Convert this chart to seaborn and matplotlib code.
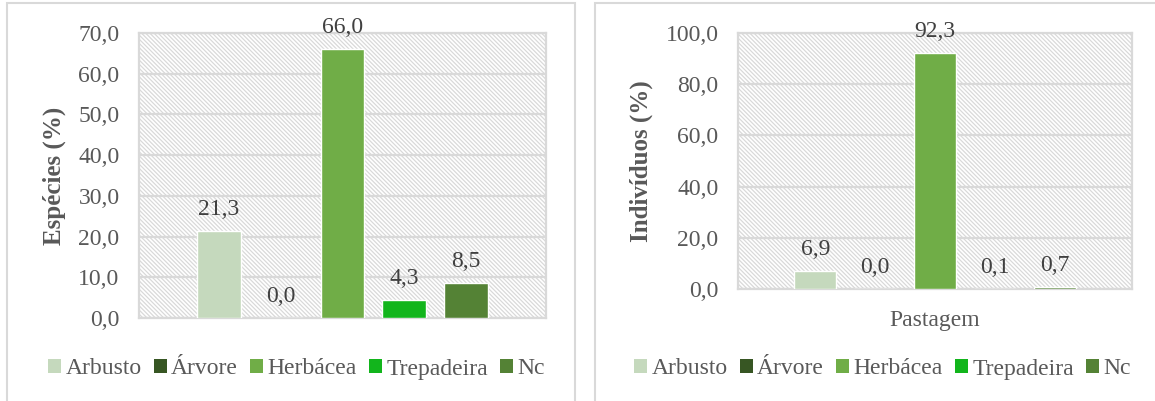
import matplotlib
matplotlib.use("Agg")
import matplotlib.pyplot as plt
import seaborn as sns
import pandas as pd
from matplotlib.patches import Rectangle, Patch
from matplotlib.ticker import FuncFormatter, MultipleLocator

# ---------------- data ----------------
categories = ["Arbusto", "Árvore", "Herbácea", "Trepadeira", "Nc"]
especies = [21.3, 0.0, 66.0, 4.3, 8.5]
individuos = [6.9, 0.0, 92.3, 0.1, 0.7]
colors = ["#C5D9BD", "#375623", "#70AD47", "#12B51C", "#548235"]
left_ylabel = "Espécies (%)"
right_ylabel = "Indivíduos (%)"
left_group = ""
right_group = "Pastagem"

sns.set_theme(style="white")
plt.rcParams["font.family"] = ["Liberation Serif", "DejaVu Serif"]
plt.rcParams["hatch.linewidth"] = 0.9
plt.rcParams["hatch.color"] = "#D9D9D9"

TXT = "#595959"
LBL = "#404040"
GRID = "#D9D9D9"
FS = 17

W, H = 1155, 401
fig = plt.figure(figsize=(W / 100, H / 100), dpi=100)


def fig_rect(x0, y0, x1, y1):
    return [x0 / W, 1 - y1 / H, (x1 - x0) / W, (y1 - y0) / H]


def comma(v, pos=None):
    return f"{v:.1f}".replace(".", ",")


# panel frames
fig.add_artist(Rectangle((7 / W, -0.1), (575 - 7) / W, 1.1 - 3 / H,
                         transform=fig.transFigure, fill=False,
                         edgecolor=GRID, lw=1.5))
fig.add_artist(Rectangle((595 / W, -0.1), 0.5, 1.1 - 3 / H,
                         transform=fig.transFigure, fill=False,
                         edgecolor=GRID, lw=1.5))

palette = dict(zip(categories, colors))


def draw(ax, values, group, ylabel, ymax, step, label_x):
    df = pd.DataFrame({"grupo": [group] * len(categories),
                       "forma": categories, "valor": values})
    ax.add_patch(Rectangle((0, 0), 1, 1, transform=ax.transAxes,
                           facecolor="white", edgecolor=GRID, lw=0,
                           hatch="\\" * 8, zorder=0.1))
    sns.barplot(data=df, x="grupo", y="valor", hue="forma",
                hue_order=categories, palette=palette, saturation=1,
                width=0.76, gap=0.29, errorbar=None, legend=False, ax=ax,
                zorder=3)
    ax.set_ylim(0, ymax)
    ax.yaxis.set_major_locator(MultipleLocator(step))
    ax.yaxis.set_major_formatter(FuncFormatter(comma))
    ax.set_axisbelow(True)
    ax.yaxis.grid(True, color=GRID, lw=1.6, zorder=0.5)
    ax.xaxis.grid(False)
    for s in ax.spines.values():
        s.set_visible(True)
        s.set_color(GRID)
        s.set_linewidth(1.6)
    ax.tick_params(axis="both", length=0, labelsize=FS, labelcolor=TXT)
    ax.tick_params(axis="y", pad=14)
    ax.tick_params(axis="x", pad=15)
    ax.set_xlabel("")
    ax.set_ylabel(ylabel, fontsize=18, fontweight="bold", color=TXT)
    ax.yaxis.set_label_coords(label_x, 0.5)
    ax.set_facecolor("white")
    for cont, v in zip(ax.containers, values):
        ax.bar_label(cont, labels=[comma(v)], padding=8, fontsize=FS,
                     color=LBL, zorder=4)


axL = fig.add_axes(fig_rect(139, 33, 546, 318))
draw(axL, especies, left_group, left_ylabel, 70, 10, -0.18)
axL.set_xticklabels([""])

axR = fig.add_axes(fig_rect(738, 33, 1132, 289))
draw(axR, individuos, right_group, right_ylabel, 100, 20, -0.215)

handles = [Patch(facecolor=c, edgecolor="none") for c in colors]
for cx in (296.5 / W, 882.5 / W):
    fig.legend(handles, categories, loc="center", bbox_to_anchor=(cx, 1 - 369 / H),
               ncol=5, frameon=False, fontsize=FS, labelcolor=TXT,
               handlelength=0.55, handleheight=0.55, handletextpad=0.2,
               columnspacing=0.5, borderaxespad=0)

fig.savefig("out.png", dpi=100, facecolor="white")
